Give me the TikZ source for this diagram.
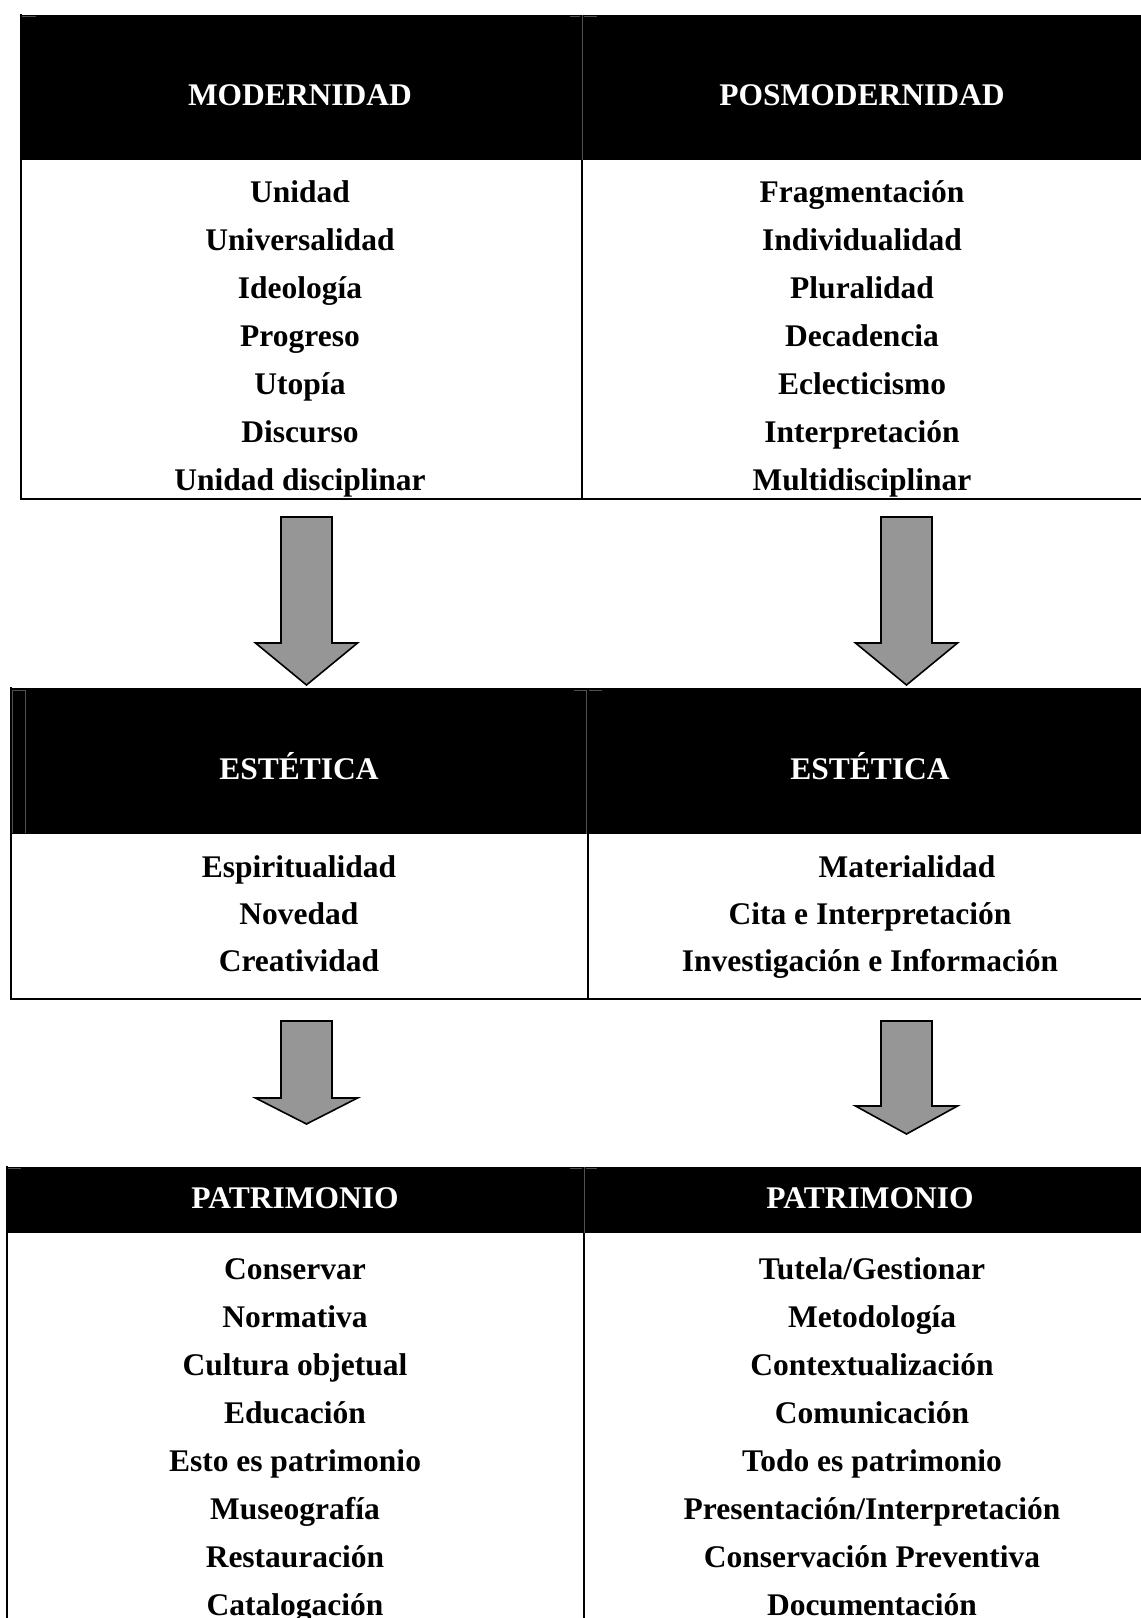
\documentclass[tikz,border=0pt]{standalone}
\usepackage{fontspec}
\setmainfont{Liberation Serif}
\definecolor{arrowgray}{RGB}{150,150,150}
\definecolor{ghostgray}{RGB}{80,80,80}
\newcommand\blockarrow[6]{% cx, top, headstart, tip, shaft half width, head half width
  \filldraw[bigarrow] (#1-#5,#2) -- (#1+#5,#2) -- (#1+#5,#3) -- (#1+#6,#3) -- (#1,#4)
    -- (#1-#6,#3) -- (#1-#5,#3) -- cycle;}
\begin{document}
\begin{tikzpicture}[x=0.5pt,y=-0.5pt,
  lbl/.style={font=\fontsize{15.75}{18}\selectfont\bfseries, anchor=base, inner sep=0pt},
  hdr/.style={lbl, text=white},
  rule/.style={line width=1pt, line cap=rect},
  ghost/.style={line width=0.35pt, draw=ghostgray},
  bigarrow/.style={fill=arrowgray, draw=black, line width=0.8pt, line join=miter}]
\useasboundingbox (0,0) rectangle (1141,1618);

% ---------- table 1 ----------
\fill[black] (21,15) rectangle (1141,160);
\draw[rule] (21,15) -- (21,499) -- (1141,499);
\draw[rule] (582,160) -- (582,499);
\draw[ghost] (582,15) -- (582,160);
\draw[ghost] (22,16) -- (36,16) (570,16) -- (580,16) (584,16) -- (597,16);
\node[hdr] (h1L) at (300,105) {MODERNIDAD};
\node[hdr] (h1R) at (862,105) {POSMODERNIDAD};
\foreach \t [count=\i] in {Unidad, Universalidad, Ideología, Progreso, Utopía, Discurso, Unidad disciplinar}
  \node[lbl] (aL\i) at (300,154+48*\i) {\t};
\foreach \t [count=\i] in {Fragmentación, Individualidad, Pluralidad, Decadencia, Eclecticismo, Interpretación, Multidisciplinar}
  \node[lbl] (aR\i) at (862,154+48*\i) {\t};

% ---------- arrows 1 ----------
\blockarrow{306.5}{517}{643}{685}{25.5}{51}
\blockarrow{906.5}{517}{643}{685}{25.5}{51}

% ---------- table 2 ----------
\fill[black] (10,688) rectangle (1141,834);
\draw[rule] (11,688) -- (11,999) -- (1141,999);
\draw[rule] (588,834) -- (588,999);
\draw[ghost] (12.5,833) -- (12.5,690) -- (25.5,690) -- (25.5,833);
\draw[ghost] (586.5,690) -- (586.5,834);
\draw[ghost] (574,690) -- (586,690) (589,690) -- (602,690);
\node[hdr] (h2L) at (299,779) {ESTÉTICA};
\node[hdr] (h2R) at (870,779) {ESTÉTICA};
\foreach \t [count=\i] in {Espiritualidad, Novedad, Creatividad}
  \node[lbl] (bL\i) at (299,830+47*\i) {\t};
\node[lbl] (bR1) at (907,877) {Materialidad};
\node[lbl] (bR2) at (870,924) {Cita e Interpretación};
\node[lbl] (bR3) at (870,971) {Investigación e Información};

% ---------- arrows 2 ----------
\blockarrow{306.5}{1021}{1098}{1124}{25.5}{51}
\blockarrow{906.5}{1021}{1106}{1134}{25.5}{51}

% ---------- table 3 ----------
\fill[black] (7,1167) rectangle (1141,1233);
\draw[rule] (7,1167) -- (7,1625);
\draw[rule] (584,1233) -- (584,1625);
\draw[ghost] (584,1167) -- (584,1233);
\draw[ghost] (8,1168) -- (21,1168) (570,1168) -- (582,1168) (586,1168) -- (597,1168);
\node[hdr] (h3L) at (295,1208) {PATRIMONIO};
\node[hdr] (h3R) at (870,1208) {PATRIMONIO};
\foreach \t [count=\i] in {Conservar, Normativa, Cultura objetual, Educación, Esto es patrimonio, Museografía, Restauración, Catalogación}
  \node[lbl] (cL\i) at (295,1231+48*\i) {\t};
\foreach \t [count=\i] in {Tutela/Gestionar, Metodología, Contextualización, Comunicación, Todo es patrimonio, Presentación/Interpretación, Conservación Preventiva, Documentación}
  \node[lbl] (cR\i) at (872,1231+48*\i) {\t};
\end{tikzpicture}
\end{document}
